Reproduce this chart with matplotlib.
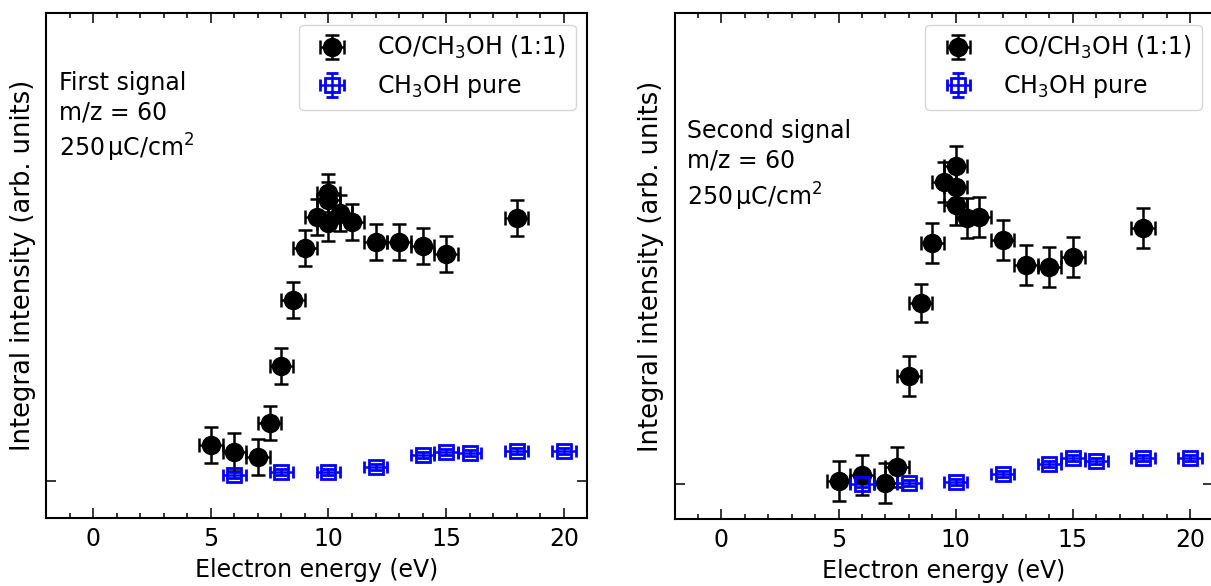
import numpy as np
import matplotlib
matplotlib.use("Agg")
import matplotlib.pyplot as plt
from matplotlib.ticker import MultipleLocator

# energias (eV) e intensidades (unidades arbitrárias)
x_mix_1 = [5, 6, 7, 7.5, 8, 8.5, 9, 9.5, 10, 10, 10, 10.5, 11, 12, 13, 14, 15, 18]
y_mix_1 = [0.36, 0.29, 0.24, 0.58, 1.15, 1.81, 2.33, 2.64, 2.88, 2.81, 2.58, 2.68, 2.59, 2.39, 2.39, 2.35, 2.27, 2.63]
yerr_mix_1 = [0.18, 0.19, 0.18, 0.17, 0.18, 0.18, 0.18, 0.18, 0.19, 0.18, 0.18, 0.18, 0.18, 0.18, 0.18, 0.18, 0.18, 0.18]

x_pure_1 = [6, 8, 10, 12, 14, 15, 16, 18, 20]
y_pure_1 = [0.06, 0.09, 0.09, 0.14, 0.26, 0.29, 0.28, 0.30, 0.30]

x_mix_2 = [5, 6, 7, 7.5, 8, 8.5, 9, 9.5, 10, 10, 10, 10.5, 11, 12, 13, 14, 15, 18]
y_mix_2 = [0.03, 0.09, 0.01, 0.17, 1.08, 1.81, 2.41, 3.02, 3.18, 2.97, 2.79, 2.66, 2.67, 2.44, 2.19, 2.17, 2.27, 2.56]
yerr_mix_2 = [0.2, 0.2, 0.2, 0.2, 0.2, 0.19, 0.2, 0.2, 0.2, 0.2, 0.2, 0.2, 0.2, 0.2, 0.2, 0.2, 0.2, 0.2]

x_pure_2 = [6, 8, 10, 12, 14, 15, 16, 18, 20]
y_pure_2 = [0.00, 0.01, 0.02, 0.10, 0.20, 0.26, 0.23, 0.26, 0.26]

xerr = 0.5
yerr_pure = 0.03

plt.rcParams['font.size'] = 17
plt.rcParams['mathtext.default'] = 'regular'


#função que desenha um painel
def painel(ax, xm, ym, yem, xp, yp, texto, ylim, texto_y):
    ax.errorbar(xm, ym, xerr=xerr, yerr=yem, fmt='o', color='black', ms=13,
                elinewidth=1.8, capsize=5, capthick=1.8, label='CO/CH$_3$OH (1:1)')
    ax.errorbar(xp, yp, xerr=xerr, yerr=yerr_pure, fmt='s', color='blue', mfc='none',
                ms=10.5, mew=2, elinewidth=1.8, capsize=4, capthick=1.8, label='CH$_3$OH pure')
    ax.set_xlim(-2, 21)
    ax.set_ylim(*ylim)
    ax.xaxis.set_major_locator(MultipleLocator(5))
    ax.xaxis.set_minor_locator(MultipleLocator(1))
    ax.set_yticks([0])
    ax.set_yticklabels([])
    ax.tick_params(direction='in', top=True, right=True, which='both')
    ax.tick_params(which='major', length=7, width=1.1, pad=6.5)
    ax.tick_params(which='minor', length=3.5, width=1.1)
    for s in ax.spines.values():
        s.set_linewidth(1.5)
    ax.set_xlabel('Electron energy (eV)', labelpad=5)
    ax.set_ylabel('Integral intensity (arb. units)', fontsize=18.5, labelpad=1)
    ax.text(0.024, texto_y, texto, transform=ax.transAxes, va='top', ha='left', linespacing=1.3)
    ax.legend(loc='upper right', handletextpad=0.9)


fig = plt.figure(figsize=(12.11, 5.86), dpi=100)
ax1 = fig.add_axes([0.038, 0.116, 0.447, 0.862])
ax2 = fig.add_axes([0.557, 0.114, 0.445, 0.864])

painel(ax1, x_mix_1, y_mix_1, yerr_mix_1, x_pure_1, y_pure_1,
       'First signal\nm/z = 60\n250$\\,$μC/cm$^2$', (-0.37, 4.68), 0.885)
painel(ax2, x_mix_2, y_mix_2, yerr_mix_2, x_pure_2, y_pure_2,
       'Second signal\nm/z = 60\n250$\\,$μC/cm$^2$', (-0.35, 4.71), 0.79)

fig.savefig('out.png', dpi=100)
